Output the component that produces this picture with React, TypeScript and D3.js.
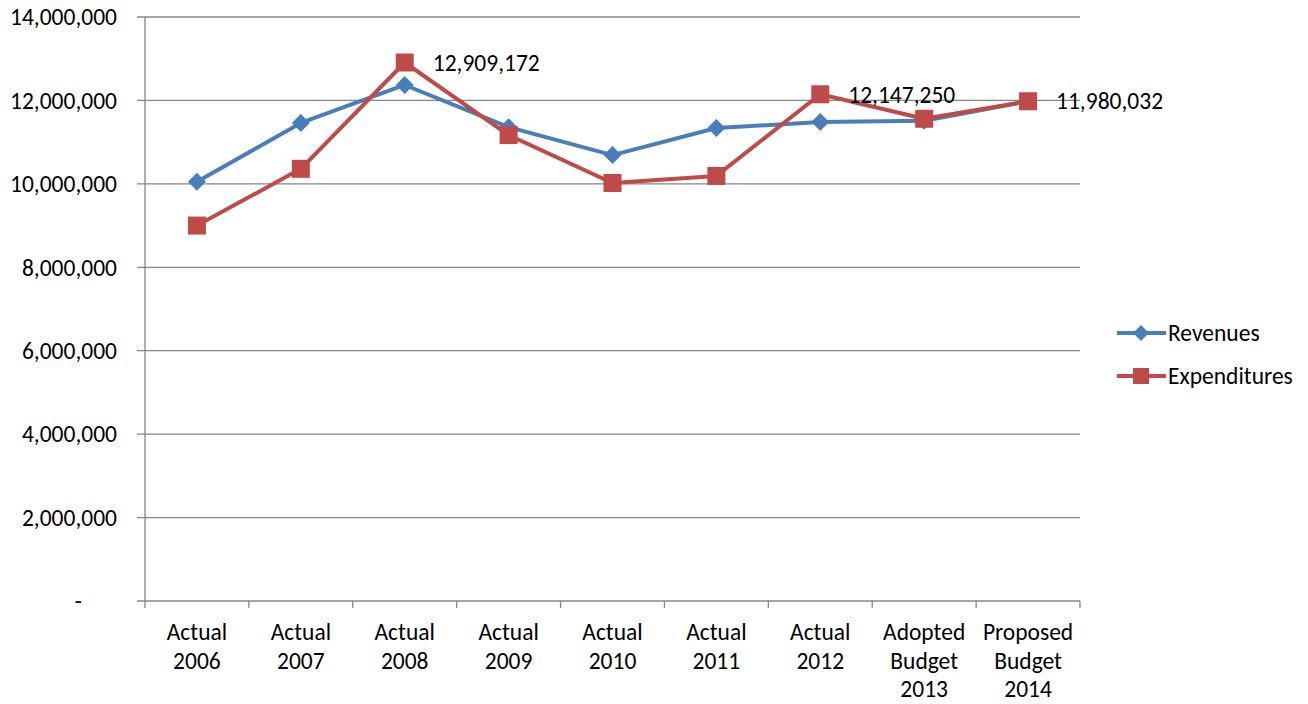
import React from "react";
import * as d3 from "d3";

const categories: string[][] = [
  ["Actual", "2006"],
  ["Actual", "2007"],
  ["Actual", "2008"],
  ["Actual", "2009"],
  ["Actual", "2010"],
  ["Actual", "2011"],
  ["Actual", "2012"],
  ["Adopted", "Budget", "2013"],
  ["Proposed", "Budget", "2014"],
];

const revenues: number[] = [
  10050000, 11460000, 12370000, 11360000, 10690000, 11340000, 11480000, 11510000, 11980032,
];

const expenditures: number[] = [
  9000000, 10360000, 12909172, 11170000, 10020000, 10190000, 12147250, 11560000, 11980032,
];

// indices of expenditure points that carry a value label
const labelledPoints: number[] = [2, 6, 8];

const yTicks: number[] = [0, 2000000, 4000000, 6000000, 8000000, 10000000, 12000000, 14000000];

const BLUE = "#4A7EBB";
const RED = "#BE4B48";
const GRID = "#868686";
const FONT = "Carlito, Calibri, Lato, 'Open Sans', sans-serif";
const FS = 23.5;

const W = 1308;
const H = 704;
const left = 145;
const right = 1080;
const top = 17;
const bottom = 601;

export default function App() {
  const x = d3
    .scaleBand<number>()
    .domain(categories.map((_, i) => i))
    .range([left, right])
    .padding(0);
  const y = d3.scaleLinear().domain([0, 14000000]).range([bottom, top]);
  const fmt = d3.format(",");
  const cx = (i: number) => (x(i) as number) + x.bandwidth() / 2;

  const line = d3
    .line<number>()
    .x((_, i) => cx(i))
    .y((d) => y(d));

  const diamond = (px: number, py: number, r: number) =>
    `M${px},${py - r}L${px + r},${py}L${px},${py + r}L${px - r},${py}Z`;

  return (
    <svg
      width={W}
      height={H}
      style={{ position: "absolute", left: 0, top: 0, background: "#fff" }}
      fontFamily={FONT}
    >
      {/* gridlines and y ticks */}
      {yTicks.map((t) => (
        <g key={t}>
          <line x1={left - 8} x2={right} y1={y(t)} y2={y(t)} stroke={GRID} strokeWidth={1.3} />
          <text
            x={t === 0 ? 82 : 117}
            y={y(t)}
            dy="0.35em"
            textAnchor="end"
            fontSize={FS}
            fill="#000"
          >
            {t === 0 ? "-" : fmt(t)}
          </text>
        </g>
      ))}
      {/* y axis */}
      <line x1={left} x2={left} y1={top} y2={bottom} stroke={GRID} strokeWidth={1.3} />
      {/* x ticks */}
      {d3.range(categories.length + 1).map((i) => {
        const px = i < categories.length ? (x(i) as number) : right;
        return (
          <line key={i} x1={px} x2={px} y1={bottom} y2={bottom + 7} stroke={GRID} strokeWidth={1.3} />
        );
      })}
      {/* x labels */}
      {categories.map((lines, i) => (
        <text key={i} x={cx(i)} textAnchor="middle" fontSize={FS} fill="#000">
          {lines.map((s, j) => (
            <tspan key={j} x={cx(i)} y={640 + j * 28.5}>
              {s}
            </tspan>
          ))}
        </text>
      ))}
      {/* series lines */}
      <path d={line(revenues) || ""} fill="none" stroke={BLUE} strokeWidth={4} strokeLinejoin="round" />
      {revenues.map((v, i) => (
        <path key={i} d={diamond(cx(i), y(v), 9)} fill={BLUE} />
      ))}
      <path d={line(expenditures) || ""} fill="none" stroke={RED} strokeWidth={4} strokeLinejoin="round" />
      {expenditures.map((v, i) => (
        <rect key={i} x={cx(i) - 9} y={y(v) - 9} width={18} height={18} fill={RED} />
      ))}
      {/* value labels */}
      {labelledPoints.map((i) => (
        <text key={i} x={cx(i) + 28} y={y(expenditures[i])} dy="0.35em" fontSize={FS} fill="#000">
          {fmt(expenditures[i])}
        </text>
      ))}
      {/* legend */}
      <g>
        <line x1={1117} x2={1166} y1={333} y2={333} stroke={BLUE} strokeWidth={4} />
        <path d={diamond(1141, 333, 8)} fill={BLUE} />
        <text x={1168} y={333} dy="0.35em" fontSize={FS} fill="#000">
          Revenues
        </text>
        <line x1={1117} x2={1166} y1={376} y2={376} stroke={RED} strokeWidth={4} />
        <rect x={1133} y={368} width={16} height={16} fill={RED} />
        <text x={1168} y={376} dy="0.35em" fontSize={FS} fill="#000">
          Expenditures
        </text>
      </g>
    </svg>
  );
}
